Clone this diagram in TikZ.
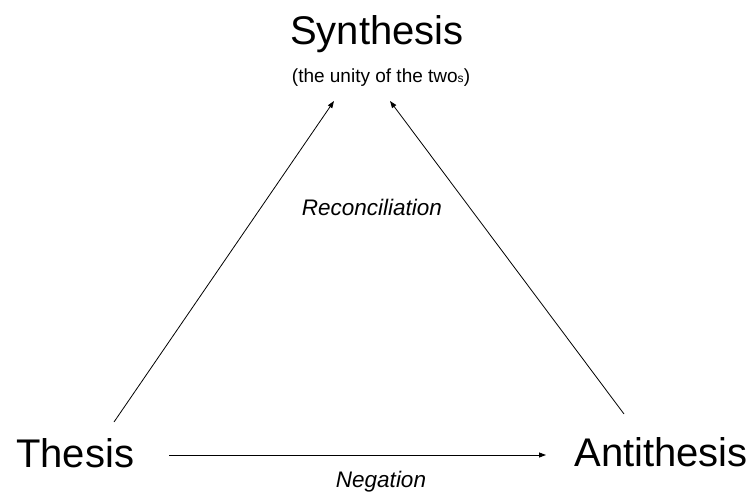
\documentclass[tikz,border=0pt]{standalone}
\usepackage{fontspec}
\setmainfont{Liberation Sans}
\usetikzlibrary{arrows.meta}
\begin{document}
\begin{tikzpicture}[x=1pt,y=-1pt,
  big/.style={inner sep=0pt,font=\fontsize{40}{40}\selectfont},
  sub/.style={inner sep=0pt,font=\fontsize{19}{19}\selectfont},
  lbl/.style={inner sep=0pt,font=\fontsize{22.5}{22.5}\selectfont\itshape},
  conn/.style={line width=0.8pt,-{Triangle[length=7pt,width=5pt]}}]
\useasboundingbox (0,0) rectangle (751,493);
\node[big,anchor=base] (syn) at (377,44) {Synthesis};
\node[sub,anchor=base] (sub) at (381,82) {(the unity of the two{\fontsize{12}{12}\selectfont s})};
\node[big,anchor=base west] (the) at (16,467) {Thesis};
\node[big,anchor=base east] (ant) at (748,466) {Antithesis};
\node[lbl,anchor=base] (rec) at (372,215) {Reconciliation};
\node[lbl,anchor=base] (neg) at (381,487) {Negation};
\coordinate (t1) at (114,422);
\coordinate (s1) at (334,101);
\coordinate (a1) at (624,414);
\coordinate (s2) at (390,101);
\coordinate (t2) at (169,455);
\coordinate (a2) at (546,455);
\draw[conn] (t1) -- (s1);
\draw[conn] (a1) -- (s2);
\draw[conn] (t2) -- (a2);
\end{tikzpicture}
\end{document}
